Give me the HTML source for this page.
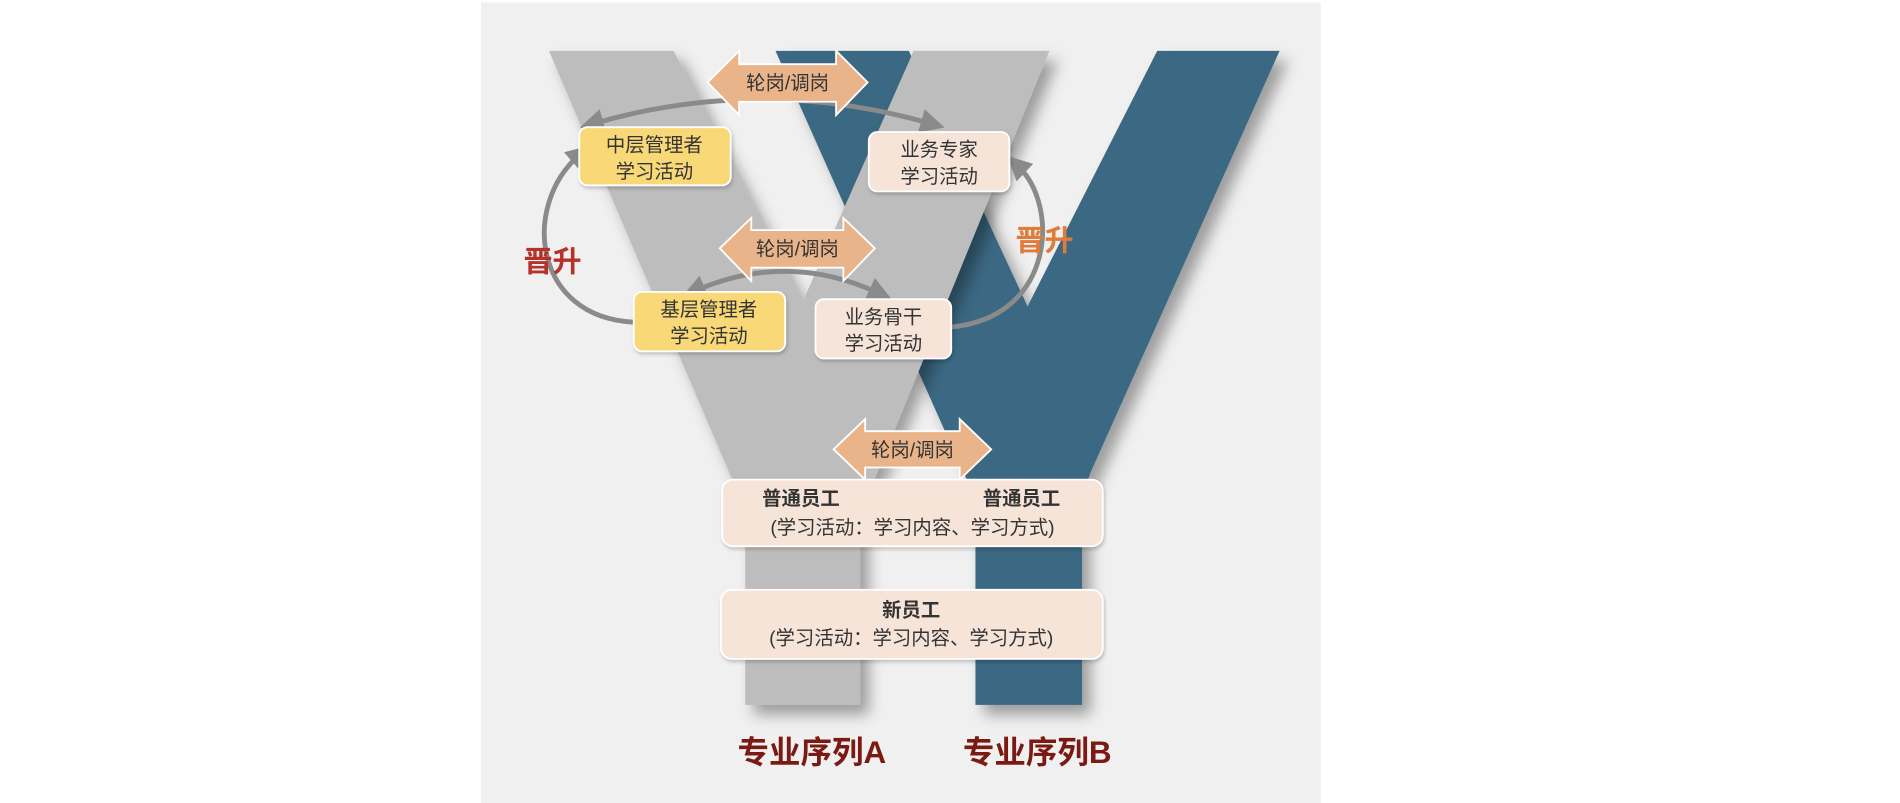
<!DOCTYPE html>
<html><head><meta charset="utf-8"><style>
html,body{margin:0;padding:0;background:#fff;width:1900px;height:803px;overflow:hidden}
svg{display:block}
text{font-family:"Liberation Sans","Noto Sans CJK SC",sans-serif}
</style></head><body>
<svg width="1900" height="803" viewBox="0 0 1568 663" preserveAspectRatio="none" xmlns="http://www.w3.org/2000/svg">
<defs>
<filter id="sh" x="-20%" y="-20%" width="140%" height="140%"><feDropShadow dx="7" dy="8" stdDeviation="6" flood-color="#000" flood-opacity="0.35"/></filter>
<filter id="sh2" x="-20%" y="-20%" width="140%" height="140%"><feDropShadow dx="1" dy="2" stdDeviation="1.5" flood-color="#000" flood-opacity="0.2"/></filter>
<marker id="ah" markerWidth="5" markerHeight="5" refX="2" refY="2.5" orient="auto" markerUnits="strokeWidth"><path d="M0,0 L5,2.5 L0,5 Z" fill="#8a8a8a"/></marker>
<marker id="ahs" markerWidth="5" markerHeight="5" refX="2" refY="2.5" orient="auto-start-reverse" markerUnits="strokeWidth"><path d="M0,0 L5,2.5 L0,5 Z" fill="#8a8a8a"/></marker>
</defs>
<rect x="397" y="2" width="693" height="661" fill="#f0f0f0"/>
<polygon filter="url(#sh)" fill="#3a6882" points="640,42 750,42 848,253 955,42 1056,42 900,390 893,410 893,582 805,582 805,410 795,390"/>
<polygon filter="url(#sh)" fill="#bdbdbd" points="453,42 556,42 662,250 754,42 866,42 720,400 710,425 710,582 615,582 615,425 606,400"/>
<g fill="none" stroke="#8a8a8a" stroke-width="4">
<path d="M490,102 Q628,62 768,102" marker-start="url(#ahs)" marker-end="url(#ah)"/>
<path d="M574,240 Q650,207 725,242" marker-start="url(#ahs)" marker-end="url(#ah)"/>
<path d="M523,266 C440,262 430,170 478,128" marker-end="url(#ah)"/>
<path d="M785,270 C870,262 875,170 840,137" marker-end="url(#ah)"/>
</g>
<g fill="#e9b48a" stroke="#fff" stroke-width="1.5">
<polygon points="584,68 610,42 610,53 690,53 690,42 716,68 690,95 690,84 610,84 610,95"/>
<polygon points="594,205 620,180 620,190 696,190 696,180 722,205 696,232 696,221 620,221 620,232"/>
<polygon points="688,371 714,346 714,356 792,356 792,346 818,371 792,396 792,386 714,386 714,396"/>
</g>
<g font-size="16" fill="#333" text-anchor="middle">
<text x="650" y="74">轮岗/调岗</text>
<text x="658" y="211">轮岗/调岗</text>
<text x="753" y="377">轮岗/调岗</text>
</g>
<g stroke="#fff" stroke-width="1.5" filter="url(#sh2)">
<rect x="478" y="105" width="125" height="48" rx="7" fill="#f8d877"/>
<rect x="717" y="109" width="116" height="49" rx="7" fill="#f6e4d8"/>
<rect x="523" y="241" width="125" height="49" rx="7" fill="#f8d877"/>
<rect x="673" y="247" width="112" height="49" rx="7" fill="#f6e4d8"/>
<rect x="596" y="396" width="314" height="55" rx="9" fill="#f6e4d8"/>
<rect x="595" y="487" width="315" height="57" rx="9" fill="#f6e4d8"/>
</g>
<g font-size="16" fill="#333" text-anchor="middle">
<text x="540" y="125">中层管理者</text><text x="540" y="147">学习活动</text>
<text x="775" y="129">业务专家</text><text x="775" y="151">学习活动</text>
<text x="585" y="261">基层管理者</text><text x="585" y="283">学习活动</text>
<text x="729" y="267">业务骨干</text><text x="729" y="289">学习活动</text>
<text x="661" y="417" font-weight="bold">普通员工</text>
<text x="843" y="417" font-weight="bold">普通员工</text>
<text x="753" y="441">(学习活动：学习内容、学习方式)</text>
<text x="752" y="509" font-weight="bold">新员工</text>
<text x="752" y="532">(学习活动：学习内容、学习方式)</text>
</g>
<text x="456" y="224" font-size="24" font-weight="bold" fill="#b5322a" text-anchor="middle">晋升</text>
<text x="862" y="207" font-size="24" font-weight="bold" fill="#e07b39" text-anchor="middle">晋升</text>
<text x="670" y="630" font-size="26" font-weight="bold" fill="#7b1a12" text-anchor="middle">专业序列A</text>
<text x="856" y="630" font-size="26" font-weight="bold" fill="#7b1a12" text-anchor="middle">专业序列B</text>
</svg>
</body></html>
